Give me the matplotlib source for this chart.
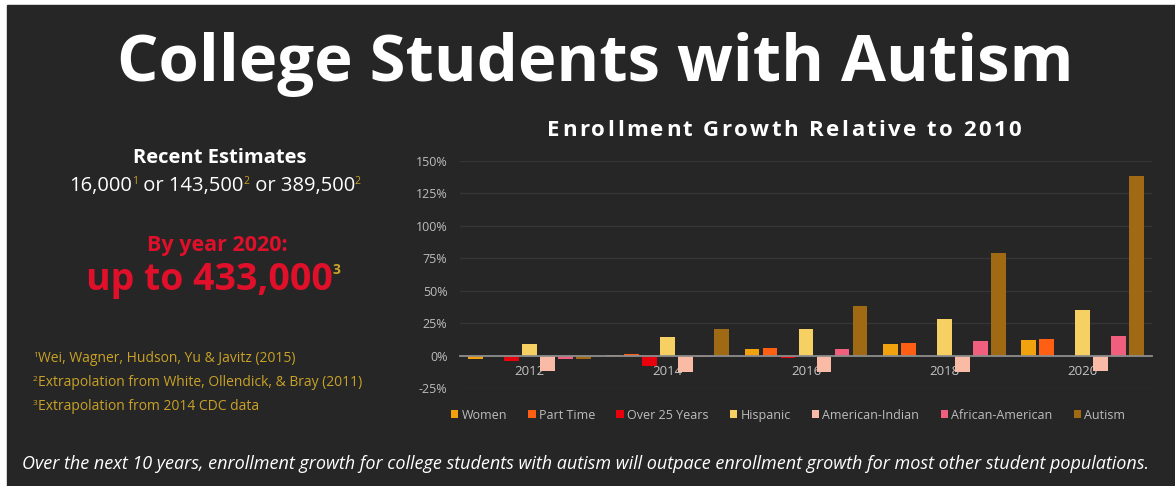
import numpy as np
import matplotlib
matplotlib.use("Agg")
import matplotlib.pyplot as plt
from matplotlib.patches import Rectangle

# -------------------------------
# DATA
# -------------------------------
years = ["2012", "2014", "2016", "2018", "2020"]
series_names = ["Women", "Part Time", "Over 25 Years", "Hispanic",
                "American-Indian", "African-American", "Autism"]
women = [-2.5, 0.5, 5, 9, 12]
part_time = [-0.5, 1, 5.5, 9.5, 12.5]
over_25 = [-4, -8, -1.5, 0, 0]
hispanic = [9, 14, 20.5, 28, 35]
american_indian = [-12, -13, -13, -13, -12]
african_american = [-2.5, -1, 5, 11, 15]
autism = [-2.5, 20.5, 38.5, 79, 138.5]
y_ticks = [-25, 0, 25, 50, 75, 100, 125, 150]

series_values = [women, part_time, over_25, hispanic,
                 american_indian, african_american, autism]
colors = ["#F2A20C", "#FF5F12", "#E8000C", "#F6D062",
          "#F9BBA5", "#F0607E", "#A06A14"]

BG = "#262626"
GOLD = "#C9A227"
RED = "#E0102A"
W, H = 1175, 486

fig = plt.figure(figsize=(W / 100, H / 100), dpi=100, facecolor="white")
# dark slide background (thin white border top/left like the screenshot)
fig.patches.append(Rectangle((7 / W, 0), 1 - 7 / W, 1 - 5 / H,
                             transform=fig.transFigure, color=BG, zorder=-10))


def fx(x):
    return x / W


def fy(y):
    return 1 - y / H


# -------------------------------
# CHART
# -------------------------------
ax = fig.add_axes([fx(460), fy(388), fx(1152) - fx(460), fy(161) - fy(388)])
ax.set_facecolor(BG)
x = np.arange(len(years))
slot = 0.13
bw = 0.108
for i, (name, vals, c) in enumerate(zip(series_names, series_values, colors)):
    ax.bar(x + (i - 3) * slot, vals, width=bw, color=c, label=name, zorder=3)

ax.set_xlim(-0.5, len(years) - 0.5)
ax.set_ylim(-25, 150)
ax.set_yticks(y_ticks)
ax.set_yticklabels([f"{t}%" for t in y_ticks])
ax.set_xticks(x)
ax.set_xticklabels(years)
ax.grid(axis="y", color="#363636", lw=0.9, zorder=0)
for s in ["top", "right", "left"]:
    ax.spines[s].set_visible(False)
ax.spines["bottom"].set_position(("data", 0))
ax.spines["bottom"].set_color("#8C8C8C")
ax.spines["bottom"].set_linewidth(1.3)
ax.spines["bottom"].set_zorder(4)
ax.tick_params(axis="y", length=0, pad=9, labelsize=9, labelcolor="#BDBDBD")
ax.tick_params(axis="x", length=0, pad=7, labelsize=9.5, labelcolor="#C4C4C4")
for lab in ax.get_yticklabels() + ax.get_xticklabels():
    lab.set_family("Open Sans")

leg = fig.legend(loc="center", bbox_to_anchor=(fx(788), fy(415)), ncol=7,
                 frameon=False, handlelength=0.6, handleheight=0.6,
                 handletextpad=0.25, columnspacing=1.7,
                 prop={"family": "Open Sans", "size": 9})
for t in leg.get_texts():
    t.set_color("#BDBDBD")

renderer = fig.canvas.get_renderer()


def tracked_text(s, xc, yc, size, track, **kw):
    # text with extra letter spacing (px), centred at xc
    objs = []
    total = 0
    for ch in s:
        t = fig.text(0, fy(yc), ch, fontsize=size, va="center", ha="left",
                     family="Open Sans", **kw)
        w = t.get_window_extent(renderer).width if ch != " " else size * 0.36
        objs.append((t, w))
        total += w + track
    total -= track
    cur = xc - total / 2
    for t, w in objs:
        t.set_x(fx(cur))
        cur += w + track


# -------------------------------
# TITLES
# -------------------------------
fig.text(fx(595), fy(64), "College Students with Autism", ha="center", va="center",
         color="white", fontsize=47, fontweight="bold", family="Open Sans")
tracked_text("Enrollment Growth Relative to 2010", 784, 130, 16, 2.4,
             color="white", fontweight="bold")
fig.text(fx(586), fy(464),
         "Over the next 10 years, enrollment growth for college students with autism "
         "will outpace enrollment growth for most other student populations.",
         ha="center", va="center", color="white", fontsize=13, style="italic",
         family="Open Sans")


# -------------------------------
# LEFT COLUMN (rich text lines)
# -------------------------------
def rich_line(pieces, xc, baseline, ha="center"):
    # pieces: (text, size, color, weight, rise_px)
    objs = []
    total = 0
    for s, size, c, wt, rise in pieces:
        t = fig.text(0, 0, s, fontsize=size, color=c, fontweight=wt,
                     family="Open Sans", va="baseline", ha="left")
        w = t.get_window_extent(renderer).width
        objs.append((t, w, rise))
        total += w
    start = xc - total / 2 if ha == "center" else xc
    cur = start
    for t, w, rise in objs:
        t.set_position((fx(cur), fy(baseline - rise)))
        cur += w


fig.text(fx(220), fy(158), "Recent Estimates", ha="center", va="center",
         color="white", fontsize=14.5, fontweight="bold", family="Open Sans")
rich_line([("16,000", 14.5, "white", "normal", 0),
           ("1", 7.5, GOLD, "normal", 7),
           (" or 143,500", 14.5, "white", "normal", 0),
           ("2", 7.5, GOLD, "normal", 7),
           (" or 389,500", 14.5, "white", "normal", 0),
           ("2", 7.5, GOLD, "normal", 7)], 215, 191)
fig.text(fx(217), fy(245), "By year 2020:", ha="center", va="center",
         color=RED, fontsize=15.5, fontweight="bold", family="Open Sans")
rich_line([("up to 433,000", 27, RED, "bold", 0),
           ("3", 10, GOLD, "bold", 16)], 213, 290)

footnotes = [("1", "Wei, Wagner, Hudson, Yu & Javitz (2015)"),
             ("2", "Extrapolation from White, Ollendick, & Bray (2011)"),
             ("3", "Extrapolation from 2014 CDC data")]
for (num, txt), base in zip(footnotes, [362, 386, 410]):
    rich_line([(num, 6, GOLD, "normal", 5),
               (txt, 10, GOLD, "normal", 0)], 33, base, ha="left")

fig.savefig("out.png", dpi=100, facecolor=fig.get_facecolor())
